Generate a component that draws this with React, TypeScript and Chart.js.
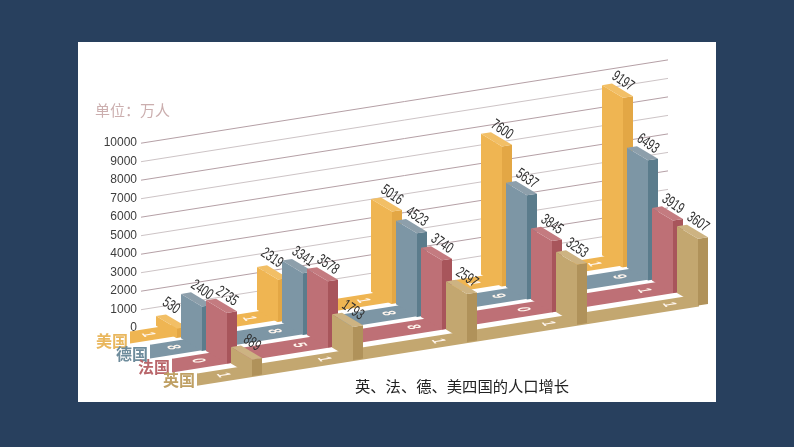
import React, { useEffect, useRef } from "react";
import { Chart, registerables } from "chart.js";

Chart.register(...registerables);

const years = ["1801", "1851", "1881", "1901", "1911"];
const usa = [530, 2319, 5016, 7600, 9197];
const germany = [2400, 3341, 4523, 5637, 6493];
const france = [2735, 3578, 3740, 3845, 3919];
const britain = [889, 1793, 2597, 3253, 3607];
const seriesNames = ["美国", "德国", "法国", "英国"];
const seriesValues = [usa, germany, france, britain];
const chartTitle = "英、法、德、美四国的人口增长";
const unitText = "单位：万人";

// Position of each census group along the (hidden) linear time axis.
const groupPositions = [14, 115, 229, 339, 460];

const palette = [
  { front: "#EFB552", side: "#E3A745", top: "#F2BF66", text: "#E9B75E" },
  { front: "#7D96A5", side: "#5B7C8C", top: "#8D9FAB", text: "#6E8C9C" },
  { front: "#BE7076", side: "#A8555B", top: "#C47B80", text: "#B9666B" },
  { front: "#C3A770", side: "#B0925A", top: "#CDB382", text: "#BFA064" },
];

const SLOPE = 0.158;
const SERIES_DX = 25;
const SERIES_DY = 16.5;
const FACE = { dx: 21, dy: 12.6 };
const SIDE = { dx: 10, dy: -1.6 };
const STRIP_LEFT = [130, 150, 172, 197];
const STRIP_RIGHT = [640, 665, 690, 699];
const STRIP_OFFSET = [1.5, 16.7, 34.2, 53];
const STRIP_THICK = [12, 15, 15, 13.5];
// Two front-row labels sit further up and left of their bars.
const LABEL_NUDGE: Record<string, Pt> = { "0-0": [-6, -6], "0-1": [-6, -5] };

type Pt = [number, number];

function poly(ctx: CanvasRenderingContext2D, pts: Pt[], fill: string) {
  ctx.beginPath();
  pts.forEach((p, i) => (i ? ctx.lineTo(p[0], p[1]) : ctx.moveTo(p[0], p[1])));
  ctx.closePath();
  ctx.fillStyle = fill;
  ctx.fill();
}

const obliquePlugin = {
  id: "oblique",
  beforeDraw(chart: any) {
    const ctx: CanvasRenderingContext2D = chart.ctx;
    ctx.save();
    ctx.fillStyle = "#28405E";
    ctx.fillRect(0, 0, chart.width, chart.height);
    ctx.fillStyle = "#FFFFFF";
    ctx.fillRect(78, 42, 638, 360);
    ctx.restore();
  },
  beforeDatasetsDraw(chart: any) {
    const ctx: CanvasRenderingContext2D = chart.ctx;
    const xs = chart.scales.x;
    const ys = chart.scales.y;
    const left = chart.chartArea.left;
    const shear = (px: number) => -SLOPE * (px - left);

    ctx.save();
    // oblique grid lines on the back wall
    ys.ticks.forEach((t: any, i: number) => {
      if (t.value === 0) return;
      const y = ys.getPixelForValue(t.value);
      ctx.beginPath();
      ctx.moveTo(left - 1, y + 0.2);
      ctx.lineTo(chart.chartArea.right, y + shear(chart.chartArea.right));
      ctx.strokeStyle = i % 2 === 0 ? "#B5A0A6" : "#CDC4C6";
      ctx.lineWidth = 1;
      ctx.stroke();
    });

    const zero = ys.getPixelForValue(0);
    const floor = (px: number) => zero + shear(px);

    seriesValues.forEach((vals, k) => {
      const c = palette[k];
      const offs = STRIP_OFFSET[k];
      const th = STRIP_THICK[k];
      const L = STRIP_LEFT[k];
      const R = STRIP_RIGHT[k];
      poly(
        ctx,
        [
          [L, floor(L) + offs],
          [R, floor(R) + offs],
          [R, floor(R) + offs + th],
          [L, floor(L) + offs + th],
        ],
        c.front,
      );
      if (k > 0) {
        ctx.beginPath();
        ctx.moveTo(L, floor(L) + offs);
        ctx.lineTo(R, floor(R) + offs);
        ctx.strokeStyle = "#FFFFFF";
        ctx.lineWidth = 2.5;
        ctx.stroke();
      }
      // year digits lying on the floor strip
      years.forEach((yr, g) => {
        const px = xs.getPixelForValue(groupPositions[g]) + SERIES_DX * k;
        const dx = px - 8;
        ctx.save();
        ctx.translate(dx, floor(dx) + offs + th / 2);
        ctx.transform(0.6, 0.65, -1.6, 0.25, 0, 0);
        ctx.fillStyle = "#FFF6EE";
        ctx.font = "bold 11px 'Liberation Sans'";
        ctx.textAlign = "center";
        ctx.textBaseline = "middle";
        ctx.fillText(yr[k], 0, 0);
        ctx.restore();
      });
      // bars
      vals.forEach((v, g) => {
        const px = xs.getPixelForValue(groupPositions[g]) + SERIES_DX * k;
        const footY = floor(px) + SERIES_DY * k;
        const topY = footY + ys.getPixelForValue(v) - zero;
        const A: Pt = [px, topY];
        const D: Pt = [px + FACE.dx, topY + FACE.dy];
        const C: Pt = [D[0] + SIDE.dx, D[1] + SIDE.dy];
        const B: Pt = [px + SIDE.dx, topY + SIDE.dy];
        const A0: Pt = [px, footY];
        const D0: Pt = [px + FACE.dx, footY + FACE.dy];
        const C0: Pt = [D0[0] + SIDE.dx, D0[1] + SIDE.dy];
        poly(ctx, [D, C, C0, D0], c.side);
        poly(ctx, [A, D, D0, A0], c.front);
        poly(ctx, [A, B, C, D], c.top);
      });
    });

    // value labels
    seriesValues.forEach((vals, k) => {
      vals.forEach((v, g) => {
        const px = xs.getPixelForValue(groupPositions[g]) + SERIES_DX * k;
        const footY = floor(px) + SERIES_DY * k;
        const topY = footY + ys.getPixelForValue(v) - zero;
        const nudge = LABEL_NUDGE[`${k}-${g}`] || [0, 0];
        ctx.save();
        ctx.translate(px + 21 + nudge[0], topY - 4 + nudge[1]);
        ctx.rotate(0.6);
        ctx.scale(0.74, 1.1);
        ctx.fillStyle = "#2E2E2E";
        ctx.font = "14px 'Liberation Sans'";
        ctx.textAlign = "center";
        ctx.textBaseline = "middle";
        ctx.fillText(String(v), 0, 0);
        ctx.restore();
      });
    });

    // series names
    ctx.textAlign = "right";
    ctx.textBaseline = "middle";
    ctx.font = "bold 16px 'Noto Sans CJK SC'";
    seriesNames.forEach((n, k) => {
      ctx.fillStyle = palette[k].text;
      ctx.fillText(n, STRIP_LEFT[k] - 2, 341 + 13 * k);
    });

    // unit and caption
    ctx.textAlign = "left";
    ctx.font = "15px 'Noto Sans CJK SC'";
    ctx.fillStyle = "#CBAEAE";
    ctx.fillText(unitText, 95, 110);
    ctx.font = "15.3px 'Noto Sans CJK SC'";
    ctx.fillStyle = "#222222";
    ctx.fillText(chartTitle, 355, 386);
    ctx.restore();
  },
};

export default function App() {
  const ref = useRef<HTMLCanvasElement>(null);
  useEffect(() => {
    if (!ref.current) return;
    const chart = new Chart(ref.current, {
      type: "bar",
      data: {
        datasets: seriesNames.map((name, k) => ({
          label: name,
          data: seriesValues[k].map((v, g) => ({ x: groupPositions[g], y: v })),
          backgroundColor: "transparent",
          borderWidth: 0,
          grouped: false,
        })),
      },
      options: {
        animation: false,
        responsive: false,
        layout: { padding: { left: 0, top: 143, right: 126, bottom: 119 } },
        plugins: { legend: { display: false }, tooltip: { enabled: false }, title: { display: false } },
        scales: {
          x: { type: "linear", min: 0, max: 526, display: false, offset: false },
          y: {
            type: "linear",
            min: 0,
            max: 10000,
            afterFit: (s: any) => {
              s.width = 142;
            },
            border: { display: false },
            grid: { display: false, drawTicks: false },
            ticks: {
              stepSize: 1000,
              padding: 5,
              color: "#3D3D3D",
              font: { family: "'Liberation Sans'", size: 12 },
              callback: (v: any) => String(v),
              autoSkip: false,
            },
          },
        },
      },
      plugins: [obliquePlugin],
    } as any);
    return () => chart.destroy();
  }, []);
  return (
    <canvas
      ref={ref}
      width={794}
      height={447}
      style={{ position: "fixed", left: 0, top: 0, width: 794, height: 447, display: "block" }}
    />
  );
}
